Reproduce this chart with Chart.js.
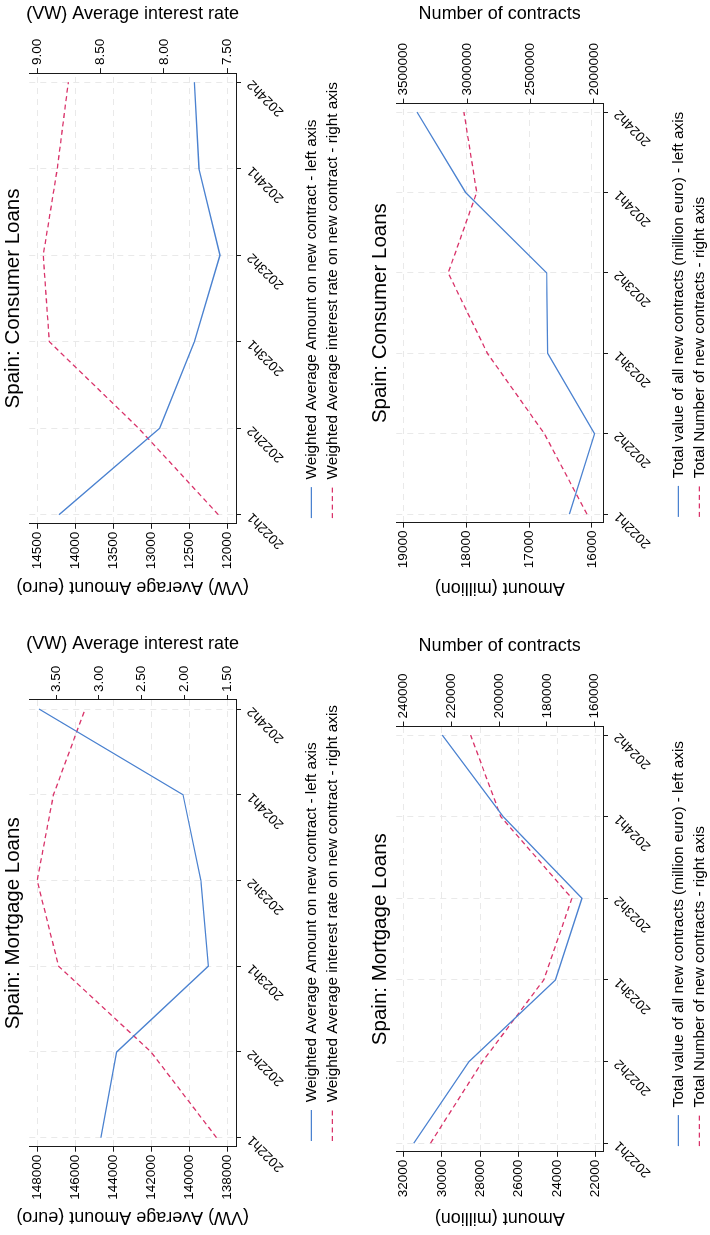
<!DOCTYPE html>
<html>
<head>
<meta charset="utf-8">
<script src="https://cdn.jsdelivr.net/npm/chart.js@4.4.1/dist/chart.umd.min.js"></script>
<style>
  html, body { margin: 0; padding: 0; background: #fff; overflow: hidden; }
  /* the whole figure is laid out landscape, then turned a quarter left */
  #sheet { position: absolute; left: 0; top: 0; width: 1235px; height: 710px;
           transform-origin: 0 0; transform: translate(0px, 1235px) rotate(-90deg);
           overflow: hidden; background: #fff; }
  #sheet canvas { position: absolute; }
</style>
</head>
<body>
<div id="sheet">
  <canvas id="mortAmount" width="617" height="350" style="left:0px;top:0px"></canvas>
  <canvas id="consAmount" width="617" height="350" style="left:618px;top:0px"></canvas>
  <canvas id="mortTotal" width="617" height="350" style="left:0px;top:367px"></canvas>
  <canvas id="consTotal" width="617" height="350" style="left:618px;top:367px"></canvas>
</div>
<script>
const periods = ['2022h1', '2022h2', '2023h1', '2023h2', '2024h1', '2024h2']

// mortgage loans
const mortAvgAmount = [144650, 143820, 139000, 139390, 140330, 147910]
const mortAvgRate = [1.625, 2.39, 3.47, 3.72, 3.53, 3.16]
const mortTotalValue = [31476, 28591, 24080, 22699, 26808, 29990]
const mortContracts = [228770, 207020, 181330, 169540, 199300, 211930]

// consumer loans
const consAvgAmount = [14214, 12890, 12434, 12096, 12372, 12434]
const consAvgRate = [7.57, 8.20, 8.905, 8.953, 8.842, 8.755]
const consTotalValue = [16358, 15957, 16705, 16721, 18013, 18787]
const consContracts = [2055000, 2391000, 2840000, 3149000, 2924000, 3025000]

// tick labels
const mortAmountTicks = [138000, 140000, 142000, 144000, 146000, 148000]
const mortRateTicks = [1.5, 2.0, 2.5, 3.0, 3.5]
const mortValueTicks = [22000, 24000, 26000, 28000, 30000, 32000]
const mortCountTicks = [160000, 180000, 200000, 220000, 240000]
const consAmountTicks = [12000, 12500, 13000, 13500, 14000, 14500]
const consRateTicks = [7.5, 8.0, 8.5, 9.0]
const consValueTicks = [16000, 17000, 18000, 19000]
const consCountTicks = [2000000, 2500000, 3000000, 3500000]

const BLUE = '#4b82d0'
const RED = '#d9336a'
const AXIS = '#1a1a1a'
const GRID = '#e9e9e9'

Chart.defaults.font.family = '"Liberation Sans", Arial, sans-serif'
Chart.defaults.color = '#000'

const avgLabels = ['Weighted Average Amount on new contract - left axis',
                   'Weighted Average interest rate on new contract - right axis']
const totLabels = ['Total value of all new contracts (million euro) - left axis',
                   'Total Number of new contracts - right axis']

// legend keys with point style lose the dataset dash, so put it back
function legendLabels(chart){
    const items = Chart.defaults.plugins.legend.labels.generateLabels(chart)
    items.forEach(l => {
        const ds = chart.data.datasets[l.datasetIndex]
        l.lineDash = ds.borderDash || []
        l.lineWidth = ds.borderWidth
        l.strokeStyle = ds.borderColor
    })
    return items
}

function drawPanel(id, p){
    const pts = vals => vals.map((v, i) => ({x: i, y: v}))
    const tickFont = {size: 13.5}
    return new Chart(document.getElementById(id), {
        type: 'line',
        data: {
            datasets: [{
                label: p.labels[0],
                data: pts(p.left),
                yAxisID: 'y',
                borderColor: BLUE,
                backgroundColor: BLUE,
                borderWidth: 1.3,
                pointRadius: 0
            }, {
                label: p.labels[1],
                data: pts(p.right),
                yAxisID: 'y1',
                borderColor: RED,
                backgroundColor: RED,
                borderWidth: 1.3,
                borderDash: [5, 3.5],
                pointRadius: 0
            }]
        },
        options: {
            responsive: false,
            animation: false,
            events: [],
            scales: {
                x: {
                    type: 'linear',
                    min: -0.105,
                    max: 5.105,
                    afterBuildTicks: s => { s.ticks = periods.map((_, i) => ({value: i})) },
                    afterFit: s => { s.height = 62 },
                    ticks: {callback: v => periods[v], minRotation: 45, maxRotation: 45,
                            autoSkip: false, padding: 3, font: tickFont},
                    grid: {color: GRID, tickColor: AXIS, tickLength: 5},
                    border: {color: AXIS, dash: [6, 5]}
                },
                y: {
                    position: 'left',
                    min: p.yMin,
                    max: p.yMax,
                    afterBuildTicks: s => { s.ticks = p.leftTicks.map(v => ({value: v})) },
                    afterFit: s => { s.width = p.leftW },
                    ticks: {callback: v => String(v), padding: 3, font: tickFont},
                    grid: {color: GRID, tickColor: AXIS, tickLength: 5},
                    border: {color: AXIS, dash: [6, 5]},
                    title: {display: true, text: p.leftTitle, font: {size: 18},
                            padding: {top: p.leftPad, bottom: 0}}
                },
                y1: {
                    position: 'right',
                    min: p.y1Min,
                    max: p.y1Max,
                    afterBuildTicks: s => { s.ticks = p.rightTicks.map(v => ({value: v})) },
                    afterFit: s => { s.width = p.rightW },
                    ticks: {callback: p.rightFmt, padding: 3, font: tickFont},
                    grid: {drawOnChartArea: false, tickColor: AXIS, tickLength: 5},
                    border: {color: AXIS},
                    title: {display: true, text: p.rightTitle, font: {size: 18},
                            padding: {top: p.rightPad, bottom: 0}}
                }
            },
            plugins: {
                title: {display: true, text: p.title, fullSize: false,
                        font: {size: 20.5, weight: 'normal'}, padding: {top: 1.1, bottom: 3.6}},
                legend: {
                    position: 'bottom',
                    align: 'start',
                    fullSize: false,
                    labels: {usePointStyle: true, pointStyle: 'line', pointStyleWidth: 31,
                             padding: 5.7, font: {size: 15.3}, generateLabels: legendLabels}
                },
                tooltip: {enabled: false}
            }
        }
    })
}

const fix2 = v => v.toFixed(2)
const plain = v => String(v)

drawPanel('mortAmount', {
    title: 'Spain: Mortgage Loans', labels: avgLabels,
    left: mortAvgAmount, right: mortAvgRate,
    leftTicks: mortAmountTicks, rightTicks: mortRateTicks, rightFmt: fix2,
    yMin: 137542, yMax: 148421, y1Min: 1.398, y1Max: 3.812,
    leftTitle: '(VW) Average Amount (euro)', rightTitle: '(VW) Average interest rate',
    leftW: 88.3, rightW: 82, leftPad: 7.6, rightPad: 15.1
})
drawPanel('consAmount', {
    title: 'Spain: Consumer Loans', labels: avgLabels,
    left: consAvgAmount, right: consAvgRate,
    leftTicks: consAmountTicks, rightTicks: consRateTicks, rightFmt: fix2,
    yMin: 11885, yMax: 14605, y1Min: 7.431, y1Max: 9.063,
    leftTitle: '(VW) Average Amount (euro)', rightTitle: '(VW) Average interest rate',
    leftW: 93.2, rightW: 73.1, leftPad: 19.4, rightPad: 3.4
})
drawPanel('mortTotal', {
    title: 'Spain: Mortgage Loans', labels: totLabels,
    left: mortTotalValue, right: mortContracts,
    leftTicks: mortValueTicks, rightTicks: mortCountTicks, rightFmt: plain,
    yMin: 21601, yMax: 32383, y1Min: 156506, y1Max: 243073,
    leftTitle: 'Amount (million)', rightTitle: 'Number of contracts',
    leftW: 83.2, rightW: 108.5, leftPad: 6.6, rightPad: 17
})
drawPanel('consTotal', {
    title: 'Spain: Consumer Loans', labels: totLabels,
    left: consTotalValue, right: consContracts,
    leftTicks: consValueTicks, rightTicks: consCountTicks, rightFmt: plain,
    yMin: 15824, yMax: 19117, y1Min: 1928684, y1Max: 3557845,
    leftTitle: 'Amount (million)', rightTitle: 'Number of contracts',
    leftW: 94.4, rightW: 103.6, leftPad: 18.4, rightPad: 2.9
})
</script>
</body>
</html>
